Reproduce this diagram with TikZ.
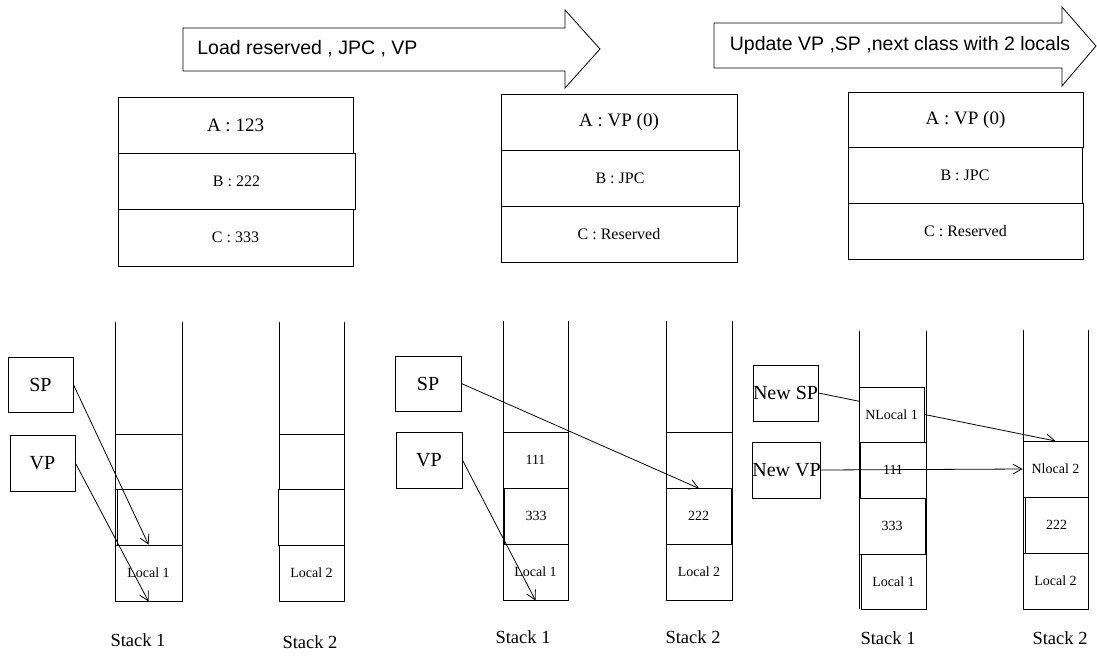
\documentclass[tikz,border=0pt]{standalone}
\usepackage{fontspec}
\setmainfont{Liberation Serif}
\newfontfamily\arialfont{Liberation Sans}
\usetikzlibrary{arrows.meta}
\tikzset{
  every path/.style={line width=0.8pt},
  cellbox/.style={draw, fill=white, inner sep=0pt, font=\fontsize{14}{16}\selectfont},
  regbox/.style={draw, inner sep=0pt, font=\fontsize{16}{18}\selectfont},
  regtop/.style={regbox, font=\fontsize{19}{21}\selectfont},
  ptrbox/.style={draw, inner sep=0pt, font=\fontsize{20}{22}\selectfont},
  stacklbl/.style={inner sep=0pt, font=\fontsize{18.5}{20}\selectfont},
  ptrarrow/.style={-{Straight Barb[length=9pt,width=10pt]}},
  bigarrow/.style={draw},
  arrowtext/.style={inner sep=0pt, font=\arialfont\fontsize{19.5}{21}\selectfont}
}
\newcommand{\cellat}[6]{\node[#1, minimum width=#4pt, minimum height=#5pt] (#2) at (#3) {#6};}
\begin{document}
\begin{tikzpicture}[x=1pt,y=-1pt]
\useasboundingbox (0,0) rectangle (1097,657);

% big arrows
\draw[bigarrow] (183,28) -- (565,28) -- (565,10) -- (600,49) -- (565,88) -- (565,71) -- (183,71) -- cycle;
\node[arrowtext, anchor=west] (ar1) at (197,49) {Load reserved , JPC , VP};
\draw[bigarrow] (714,23) -- (1062,23) -- (1062,7) -- (1096,46) -- (1062,86) -- (1062,68) -- (714,68) -- cycle;
\node[arrowtext] (ar2) at (900,45.5) {Update VP ,SP ,next class with 2 locals};

% registers
\cellat{regtop}{rA1}{235.5,125}{235}{56}{A : 123}
\cellat{regbox}{rB1}{236.5,181}{237}{56}{B : 222}
\cellat{regbox}{rC1}{235.5,237.5}{235}{57}{C : 333}
\cellat{regtop}{rA2}{619,122}{236}{56}{A : VP (0)}
\cellat{regbox}{rB2}{620,178}{238}{56}{B : JPC}
\cellat{regbox}{rC2}{619,234}{236}{56}{C : Reserved}
\cellat{regtop}{rA3}{965.5,119.5}{235}{55}{A : VP (0)}
\cellat{regbox}{rB3}{965,175}{234}{56}{B : JPC}
\cellat{regbox}{rC3}{965.5,231}{235}{56}{C : Reserved}

% ---------- panel 1 ----------
\draw (115,322) -- (115,601);
\draw (182,322) -- (182,601);
\draw (279,322) -- (279,601);
\draw (344,322) -- (344,601);
\cellat{cellbox}{s1a}{148.5,461.5}{67}{55}{}
\cellat{cellbox}{s1b}{149.5,517}{65}{56}{}
\cellat{cellbox}{s1c}{148.5,573}{67}{56}{Local 1}
\cellat{cellbox}{s2a}{311.5,461.5}{65}{55}{}
\cellat{cellbox}{s2b}{311,517}{66}{56}{}
\cellat{cellbox}{s2c}{311.5,573}{65}{56}{Local 2}
\cellat{ptrbox}{p1sp}{40.5,384.5}{65}{55}{SP}
\cellat{ptrbox}{p1vp}{42.5,463}{65}{56}{VP}
\draw[ptrarrow] (p1sp.east) -- (s1c.north);
\draw[ptrarrow] (p1vp.east) -- (s1c.south);
\node[stacklbl] (l11) at (138,640) {Stack 1};
\node[stacklbl] (l12) at (310,642) {Stack 2};

% ---------- panel 2 ----------
\draw (503,321) -- (503,600);
\draw (568,321) -- (568,600);
\draw (666,321) -- (666,600);
\draw (732,321) -- (732,600);
\cellat{cellbox}{t1a}{535.5,460}{65}{56}{111}
\cellat{cellbox}{t1b}{536,516}{64}{56}{333}
\cellat{cellbox}{t1c}{535.5,572}{65}{56}{Local 1}
\cellat{cellbox}{t2a}{699,460}{66}{56}{}
\cellat{cellbox}{t2b}{698.5,516}{65}{56}{222}
\cellat{cellbox}{t2c}{699,572}{66}{56}{Local 2}
\cellat{ptrbox}{p2sp}{428,383.5}{66}{55}{SP}
\cellat{ptrbox}{p2vp}{429,460}{66}{56}{VP}
\draw[ptrarrow] (p2sp.east) -- (t2a.south);
\draw[ptrarrow] (p2vp.east) -- (t1c.south);
\node[stacklbl] (l21) at (523,637) {Stack 1};
\node[stacklbl] (l22) at (693,637) {Stack 2};

% ---------- panel 3 ----------
\draw (859,331) -- (859,609);
\draw (926,331) -- (926,609);
\draw (1023,330) -- (1023,609);
\draw (1088,330) -- (1088,609);
\cellat{ptrbox}{p3sp}{785.5,393}{65}{56}{New SP}
\cellat{ptrbox}{p3vp}{786.5,470}{65}{56}{New VP}
\coordinate (u2top) at (1055.5,441);
\draw[ptrarrow] (p3sp.east) -- (u2top);
\cellat{cellbox}{u1a}{891.5,414.5}{65}{55}{NLocal 1}
\cellat{cellbox}{u1b}{893,470}{66}{56}{111}
\cellat{cellbox}{u1c}{892,526}{66}{56}{333}
\cellat{cellbox}{u1d}{893.5,581.5}{65}{55}{Local 1}
\cellat{cellbox}{u2a}{1055.5,469}{65}{56}{Nlocal 2}
\cellat{cellbox}{u2b}{1056.5,525}{63}{56}{222}
\cellat{cellbox}{u2c}{1055.5,581}{65}{56}{Local 2}
\draw[ptrarrow] (p3vp.east) -- (u2a.west);
\node[stacklbl] (l31) at (888,638) {Stack 1};
\node[stacklbl] (l32) at (1060,638) {Stack 2};
\end{tikzpicture}
\end{document}
